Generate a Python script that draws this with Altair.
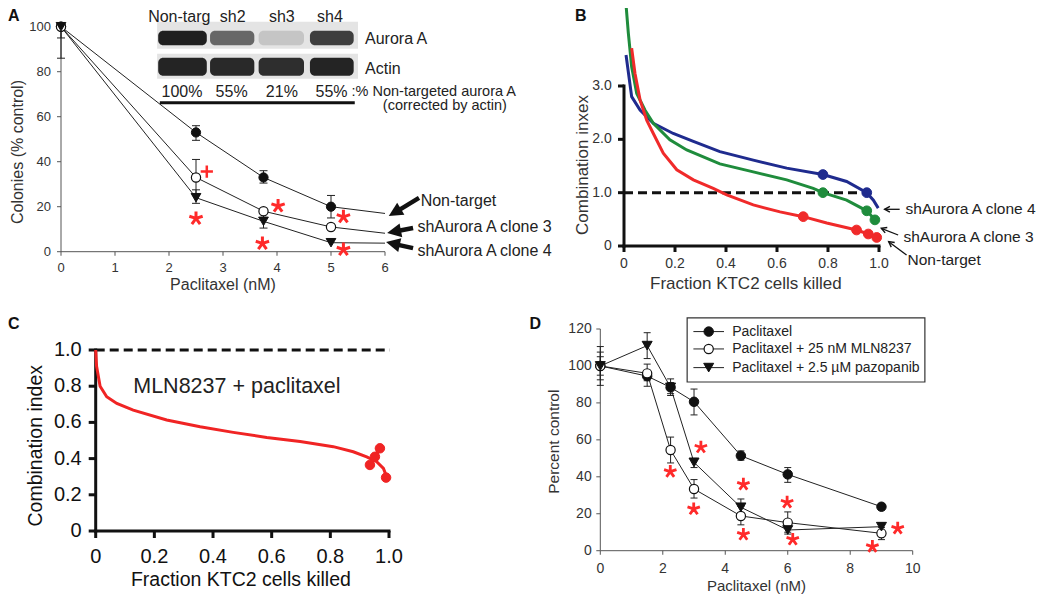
import altair as alt
import pandas as pd

FONT = "Liberation Sans"
INK = "#111111"
TXT = "#222222"
RED_STAR = "#ff2a2a"

# ======================= DATA =======================
# ---- Panel A: colony formation vs paclitaxel ----
a_dose = [0, 2.5, 3.75, 5]
a_series = ["Non-target", "shAurora A clone 3", "shAurora A clone 4"]
a_nontarget = [100, 53, 33, 20]
a_clone3 = [100, 33, 18, 11]
a_clone4 = [100, 24, 13.5, 4]
a_last_dose = 6
a_last_values = [17, 8.2, 3.8]
a_nontarget_lo = [95, 49.5, 30.5, 15]
a_nontarget_hi = [100, 56, 36, 25]
a_clone3_lo = [86, 25, 18, 11]
a_clone3_hi = [100, 41, 18, 11]
a_clone4_lo = [100, 21.5, 10.5, 4]
a_clone4_hi = [100, 27.5, 17, 4]
a_star_dose = [2.5, 4.02, 3.73, 5.23, 5.23]
a_star_value = [14.8, 20.3, 3.7, 15.5, 1.0]
a_plus_dose = [2.7]
a_plus_value = [35.6]
a_xticks = [0, 1, 2, 3, 4, 5, 6]
a_xlabels = ["0", "1", "2", "3", "4", "5", "6"]
a_yticks = [0, 20, 40, 60, 80, 100]
a_ylabels = ["0", "20", "40", "60", "80", "100"]

# western blot inset
blot_lanes = ["Non-targ", "sh2", "sh3", "sh4"]
blot_aurora = [0.95, 0.6, 0.15, 0.8]
blot_actin = [0.92, 0.9, 0.88, 0.92]
blot_percent = ["100%", "55%", "21%", "55%"]

# ---- Panel B: combination index curves ----
b_clone4_fa = [0.008, 0.03, 0.063, 0.115, 0.193, 0.272, 0.376, 0.507, 0.638, 0.78, 0.873, 0.952, 0.978, 0.997]
b_clone4_ci = [3.58, 2.8, 2.55, 2.3, 2.11, 1.96, 1.77, 1.61, 1.46, 1.34, 1.21, 1.0, 0.86, 0.71]
b_clone3_fa = [0.008, 0.017, 0.03, 0.05, 0.082, 0.115, 0.18, 0.246, 0.376, 0.507, 0.638, 0.742, 0.78, 0.873, 0.952, 0.984]
b_clone3_ci = [4.52, 3.99, 3.36, 2.86, 2.55, 2.3, 1.99, 1.8, 1.54, 1.39, 1.24, 1.08, 1.0, 0.86, 0.66, 0.49]
b_nontarget_fa = [0.03, 0.043, 0.063, 0.089, 0.115, 0.154, 0.207, 0.272, 0.35, 0.403, 0.507, 0.612, 0.703, 0.795, 0.912, 0.958, 0.997]
b_nontarget_ci = [3.71, 3.24, 2.74, 2.36, 2.11, 1.74, 1.43, 1.24, 1.08, 0.96, 0.77, 0.64, 0.55, 0.43, 0.3, 0.225, 0.14]
b_clone4_pts_fa = [0.78, 0.952]
b_clone4_pts_ci = [1.34, 1.0]
b_clone3_pts_fa = [0.78, 0.952, 0.984]
b_clone3_pts_ci = [1.0, 0.66, 0.49]
b_nontarget_pts_fa = [0.703, 0.912, 0.958, 0.991]
b_nontarget_pts_ci = [0.55, 0.30, 0.225, 0.16]
b_ref_ci = 1.0
b_ref_fa = [0, 0.978]
b_xticks = [0, 0.2, 0.4, 0.6, 0.8, 1.0]
b_xlabels = ["0", "0.2", "0.4", "0.6", "0.8", "1.0"]
b_yticks = [0, 1, 2, 3]
b_ylabels = ["0", "1.0", "2.0", "3.0"]

# ---- Panel C: MLN8237 + paclitaxel ----
c_fa = [0, 0.003, 0.015, 0.0375, 0.072, 0.128, 0.242, 0.356, 0.469, 0.583, 0.697, 0.81, 0.878, 0.924, 0.958, 0.981, 0.992]
c_ci = [1.0, 0.91, 0.80, 0.742, 0.705, 0.668, 0.613, 0.576, 0.545, 0.517, 0.494, 0.466, 0.438, 0.41, 0.383, 0.346, 0.30]
c_pts_fa = [0.935, 0.952, 0.969]
c_pts_ci = [0.365, 0.41, 0.457]
c_end_fa = [0.99]
c_end_ci = [0.295]
c_ref_ci = 1.0
c_ref_fa = [0, 1.003]
c_xticks = [0, 0.2, 0.4, 0.6, 0.8, 1.0]
c_xlabels = ["0", "0.2", "0.4", "0.6", "0.8", "1.0"]
c_yticks = [0, 0.2, 0.4, 0.6, 0.8, 1.0]
c_ylabels = ["0", "0.2", "0.4", "0.6", "0.8", "1.0"]

# ---- Panel D: percent control vs paclitaxel ----
d_dose = [0, 1.5, 2.25, 3, 4.5, 6, 9]
d_pac = [100, 94.5, 88.4, 80.6, 51.4, 41.3, 23.8]
d_mln = [100, 96, 54.5, 33.4, 18.8, 15.2, 9.4]
d_paz = [100, 111, 88.4, 47.8, 23.5, 11.2, 13]
d_pac_lo = [89.5, 92, 85, 73.5, 49, 37, 22]
d_pac_hi = [110.5, 97, 91, 87.5, 54, 45, 25.5]
d_mln_lo = [92.5, 89, 47.5, 28.5, 14, 10, 6]
d_mln_hi = [107.5, 101, 61.5, 38.5, 24, 21, 12.5]
d_paz_lo = [95, 104, 84, 45, 18, 9, 11]
d_paz_hi = [105, 118, 93, 50, 28, 14, 15]
d_star_dose = [3.22, 2.24, 2.99, 4.58, 4.58, 5.98, 6.16, 8.71, 9.52]
d_star_value = [56, 42.8, 22.6, 35.9, 8.8, 26.2, 6.1, 2.2, 12.1]
d_legend = ["Paclitaxel", "Paclitaxel + 25 nM MLN8237", "Paclitaxel + 2.5 \u00b5M pazopanib"]
d_xticks = [0, 2, 4, 6, 8, 10]
d_xlabels = ["0", "2", "4", "6", "8", "10"]
d_yticks = [0, 20, 40, 60, 80, 100, 120]
d_ylabels = ["0", "20", "40", "60", "80", "100", "120"]

# ======================= LAYOUT (annotation placement, data units) =======================
A_LANE_MID = [2.19, 3.18, 4.09, 4.98]
A_PCT_MID = [2.24, 3.16, 4.09, 5.01]
A_LANE_LO = [1.80, 2.76, 3.66, 4.61]
A_LANE_HI = [2.70, 3.58, 4.50, 5.42]
A_ARROW_TAIL = [(6.63, 23.9), (6.52, 10.5), (6.52, 1.6)]
A_ARROW_NECK = [(6.19, 17.5), (6.16, 8.9), (6.14, 3.6)]
A_ARROW_TIP = [(6.07, 15.9), (6.04, 8.3), (6.02, 4.3)]
A_ARROW_ANGLE = [329, 349, 12.5]
A_LABEL_POS = [(6.66, 22.4), (6.6, 11.1), (6.6, 0.5)]
B_ARROW_TAIL = [(1.081, 0.688), (1.075, 0.206), (1.108, -0.169)]
B_ARROW_TIP = [(1.022, 0.688), (1.009, 0.332), (1.038, 0.081)]
B_ARROW_ANGLE = [0, 21, 36]
B_LABEL_POS = [(1.104, 0.688), (1.096, 0.163), (1.112, -0.263)]
B_LABELS = ["shAurora A clone 4", "shAurora A clone 3", "Non-target"]

ASTER = "M0,0L0,-1M0,0L0.951,-0.309M0,0L0.588,0.809M0,0L-0.588,0.809M0,0L-0.951,-0.309"
PLUS = "M-1,0L1,0M0,-1L0,1"
HEAD = "M0,0L2,-1L2,1Z"
CHEV = "M2,-1.1L0,0L2,1.1"


# ======================= HELPERS =======================
def sc(dom, rng):
    return alt.Scale(domain=dom, range=rng, nice=False, zero=False)


def XQ(S, f="x"):
    return alt.X(f"{f}:Q", scale=S, axis=None)


def YQ(S, f="y"):
    return alt.Y(f"{f}:Q", scale=S, axis=None)


def df_xy(xs, ys, **cols):
    d = {"x": list(xs), "y": list(ys)}
    d.update(cols)
    return pd.DataFrame(d)


def texts(df, X, Y, size, color=TXT, align="left", weight="normal", angle=0, baseline="middle", dx=0, dy=0):
    return alt.Chart(df).mark_text(align=align, baseline=baseline, fontSize=size, font=FONT, angle=angle,
                                   color=color, fontWeight=weight, dx=dx, dy=dy).encode(
        x=XQ(X), y=YQ(Y), text="t:N")


def symbols(df, X, Y, shape, size, fill, stroke, sw=1.0):
    return alt.Chart(df).mark_point(shape=shape, size=size, filled=True, fill=fill, stroke=stroke,
                                    strokeWidth=sw, opacity=1).encode(x=XQ(X), y=YQ(Y))


def strokes(df, X, Y, shape, size, color, sw, angle=False):
    enc = dict(x=XQ(X), y=YQ(Y))
    if angle:
        enc["angle"] = alt.Angle("ang:Q", scale=None)
    return alt.Chart(df).mark_point(shape=shape, size=size, filled=False, color=color,
                                    strokeWidth=sw, opacity=1).encode(**enc)


def segs(df, X, Y, color, width, dash=None, cap="butt"):
    kw = dict(color=color, strokeWidth=width, strokeCap=cap)
    if dash:
        kw["strokeDash"] = dash
    return alt.Chart(df).mark_rule(**kw).encode(x=XQ(X, "x"), x2="x2:Q", y=YQ(Y, "y"), y2="y2:Q")


def errbars(xs, los, his, X, Y, cap=8, color="#222"):
    rows = [dict(x=x, lo=l, hi=h) for x, l, h in zip(xs, los, his) if h > l]
    d = pd.DataFrame(rows)
    caps = pd.DataFrame([dict(x=r["x"], y=r[k]) for r in rows for k in ("lo", "hi")])
    r = alt.Chart(d).mark_rule(color=color, strokeWidth=1).encode(x=XQ(X), y=YQ(Y, "lo"), y2="hi:Q")
    t = alt.Chart(caps).mark_tick(orient="horizontal", size=cap, thickness=1, color=color,
                                  opacity=1).encode(x=XQ(X), y=YQ(Y))
    return [r, t]


def axes(X, Y, xt, xl, yt, yl, color, width, tick, lab_size, lab_color, xdy, ydx, cap="butt"):
    x0, y0 = xt[0], yt[0]
    out = [
        segs(pd.DataFrame({"x": [xt[0]], "x2": [xt[-1]], "y": [y0], "y2": [y0]}), X, Y, color, width, cap=cap),
        segs(pd.DataFrame({"x": [x0], "x2": [x0], "y": [yt[0]], "y2": [yt[-1]]}), X, Y, color, width, cap=cap),
        alt.Chart(df_xy(xt, [y0] * len(xt))).mark_tick(
            orient="vertical", size=tick, thickness=width, color=color, yOffset=tick / 2, opacity=1
        ).encode(x=XQ(X), y=YQ(Y)),
        alt.Chart(df_xy([x0] * len(yt), yt)).mark_tick(
            orient="horizontal", size=tick, thickness=width, color=color, xOffset=-tick / 2, opacity=1
        ).encode(x=XQ(X), y=YQ(Y)),
        texts(df_xy(xt, [y0] * len(xt), t=xl), X, Y, lab_size, color=lab_color, align="center",
              baseline="top", dy=xdy),
        texts(df_xy([x0] * len(yt), yt, t=yl), X, Y, lab_size, color=lab_color, align="right", dx=ydx),
    ]
    return out


# ======================= PANEL A =======================
AX = sc([0, 6], [53, 377])
AY = sc([0, 100], [243.7, 18.7])

rows = []
for name, vals, last in zip(a_series, [a_nontarget, a_clone3, a_clone4], a_last_values):
    for d, v in zip(a_dose + [a_last_dose], vals + [last]):
        rows.append(dict(series=name, x=d, y=v))
a_lines = pd.DataFrame(rows)

a_layers = axes(AX, AY, a_xticks, a_xlabels, a_yticks, a_ylabels, "#555", 1, 4, 13, "#333", 10.3, -10)
a_layers += [
    texts(df_xy([3.0], [-15.0], t=["Paclitaxel (nM)"]), AX, AY, 16, color="#333", align="center"),
    texts(df_xy([-0.789], [44.3], t=["Colonies (% control)"]), AX, AY, 16, color="#333", align="center",
          angle=270),
    alt.Chart(a_lines).mark_line(color="#222", strokeWidth=1).encode(x=XQ(AX), y=YQ(AY), detail="series:N"),
]
a_layers += errbars(a_dose, a_nontarget_lo, a_nontarget_hi, AX, AY)
a_layers += errbars(a_dose, a_clone3_lo, a_clone3_hi, AX, AY)
a_layers += errbars(a_dose, a_clone4_lo, a_clone4_hi, AX, AY)
a_layers += [
    symbols(df_xy(a_dose, a_nontarget), AX, AY, "circle", 85, INK, INK),
    symbols(df_xy(a_dose, a_clone3), AX, AY, "circle", 85, "white", INK, 1.2),
    symbols(df_xy(a_dose, a_clone4), AX, AY, "triangle-down", 95, INK, INK),
    strokes(df_xy(a_star_dose, a_star_value), AX, AY, ASTER, 196, RED_STAR, 3),
    strokes(df_xy(a_plus_dose, a_plus_value), AX, AY, PLUS, 150, RED_STAR, 2.5),
    # arrows to series labels
    segs(pd.DataFrame({"x": [p[0] for p in A_ARROW_TAIL], "y": [p[1] for p in A_ARROW_TAIL],
                       "x2": [p[0] for p in A_ARROW_NECK], "y2": [p[1] for p in A_ARROW_NECK]}),
         AX, AY, INK, 4.5),
    alt.Chart(pd.DataFrame({"x": [p[0] for p in A_ARROW_TIP], "y": [p[1] for p in A_ARROW_TIP],
                            "ang": A_ARROW_ANGLE})).mark_point(
        shape=HEAD, size=196, filled=True, color=INK, opacity=1).encode(
        x=XQ(AX), y=YQ(AY), angle=alt.Angle("ang:Q", scale=None)),
    texts(pd.DataFrame({"x": [p[0] for p in A_LABEL_POS], "y": [p[1] for p in A_LABEL_POS],
                        "t": a_series}), AX, AY, 16),
    # western blot inset
    alt.Chart(pd.DataFrame({"x": [1.78, 1.78], "x2": [5.50, 5.50], "y": [90.2, 76.9], "y2": [102.2, 88.0]}))
    .mark_rect(color="#e4e4e4").encode(x=XQ(AX), x2="x2:Q", y=YQ(AY), y2="y2:Q"),
    alt.Chart(pd.DataFrame({"x": A_LANE_LO + A_LANE_LO, "x2": A_LANE_HI + A_LANE_HI,
                            "y": [91.8] * 4 + [78.2] * 4, "y2": [98.2] * 4 + [86.2] * 4,
                            "k": blot_aurora + blot_actin}))
    .mark_rect(color="#141414", cornerRadius=5).encode(
        x=XQ(AX), x2="x2:Q", y=YQ(AY), y2="y2:Q", opacity=alt.Opacity("k:Q", scale=None)),
    texts(pd.DataFrame({"x": A_LANE_MID, "y": [104.4] * 4, "t": blot_lanes}), AX, AY, 16, align="center"),
    texts(pd.DataFrame({"x": A_PCT_MID, "y": [71.0] * 4, "t": blot_percent}), AX, AY, 16, align="center"),
    texts(pd.DataFrame({"x": [5.63, 5.63], "y": [94.7, 81.3], "t": ["Aurora A", "Actin"]}), AX, AY, 16),
    texts(pd.DataFrame({"x": [5.38, 5.96], "y": [71.0, 64.8],
                        "t": [":% Non-targeted aurora A", "(corrected by actin)"]}), AX, AY, 14.5),
    segs(pd.DataFrame({"x": [1.83], "x2": [5.44], "y": [66.2], "y2": [66.2]}), AX, AY, INK, 3),
    texts(pd.DataFrame({"x": [-0.98], "y": [104.8], "t": ["A"]}), AX, AY, 16, color=INK, weight="bold"),
]
panel_a = alt.layer(*a_layers)

# ======================= PANEL B =======================
BX = sc([0, 1], [616, 871])
BY = sc([0, 3], [238, 78])
BLUE, GREEN, RED = "#1f2b8e", "#1f8c3c", "#f02a2a"

b_layers = axes(BX, BY, b_xticks, b_xlabels, b_yticks, b_ylabels, INK, 3, 6, 14, "#333", 11.3, -12.3,
                cap="square")
b_layers += [
    texts(df_xy([0.478], [-0.709], t=["Fraction KTC2 cells killed"]), BX, BY, 17, color="#333", align="center"),
    texts(df_xy([-0.160], [1.519], t=["Combination inxex"]), BX, BY, 17, color="#333", align="center",
          angle=270),
    segs(pd.DataFrame({"x": [b_ref_fa[0]], "x2": [b_ref_fa[1]], "y": [b_ref_ci], "y2": [b_ref_ci]}),
         BX, BY, INK, 3, dash=[9, 5]),
    alt.Chart(df_xy(b_clone4_fa, b_clone4_ci)).mark_line(color=BLUE, strokeWidth=3).encode(x=XQ(BX), y=YQ(BY)),
    alt.Chart(df_xy(b_clone3_fa, b_clone3_ci)).mark_line(color=GREEN, strokeWidth=3).encode(x=XQ(BX), y=YQ(BY)),
    alt.Chart(df_xy(b_nontarget_fa, b_nontarget_ci)).mark_line(color=RED, strokeWidth=3).encode(x=XQ(BX), y=YQ(BY)),
    symbols(df_xy(b_clone4_pts_fa, b_clone4_pts_ci), BX, BY, "circle", 95, BLUE, BLUE),
    symbols(df_xy(b_clone3_pts_fa, b_clone3_pts_ci), BX, BY, "circle", 95, GREEN, GREEN),
    symbols(df_xy(b_nontarget_pts_fa, b_nontarget_pts_ci), BX, BY, "circle", 95, RED, RED),
    segs(pd.DataFrame({"x": [p[0] for p in B_ARROW_TAIL], "y": [p[1] for p in B_ARROW_TAIL],
                       "x2": [p[0] for p in B_ARROW_TIP], "y2": [p[1] for p in B_ARROW_TIP]}),
         BX, BY, INK, 1.3),
    strokes(pd.DataFrame({"x": [p[0] for p in B_ARROW_TIP], "y": [p[1] for p in B_ARROW_TIP],
                          "ang": B_ARROW_ANGLE}), BX, BY, CHEV, 28, INK, 1.4, angle=True),
    texts(pd.DataFrame({"x": [p[0] for p in B_LABEL_POS], "y": [p[1] for p in B_LABEL_POS],
                        "t": B_LABELS}), BX, BY, 15.5),
    texts(pd.DataFrame({"x": [-0.192], "y": [4.315], "t": ["B"]}), BX, BY, 16, color=INK, weight="bold"),
]
panel_b = alt.layer(*b_layers)

# ======================= PANEL C =======================
CX = sc([0, 1], [87.7, 381])
CY = sc([0, 1], [523, 342])
CRED = "#f02424"
c_layers = axes(CX, CY, c_xticks, c_xlabels, c_yticks, c_ylabels, INK, 3, 7, 20, INK, 15.8, -14,
                cap="square")
c_layers += [
    texts(df_xy([0.495], [-0.27], t=["Fraction KTC2 cells killed"]), CX, CY, 19.5, color=INK, align="center"),
    texts(df_xy([-0.205], [0.471], t=["Combination index"]), CX, CY, 19.5, color=INK, align="center",
          angle=270),
    segs(pd.DataFrame({"x": [c_ref_fa[0]], "x2": [c_ref_fa[1]], "y": [c_ref_ci], "y2": [c_ref_ci]}),
         CX, CY, INK, 3, dash=[9, 5]),
    alt.Chart(df_xy(c_fa, c_ci)).mark_line(color=CRED, strokeWidth=3).encode(x=XQ(CX), y=YQ(CY)),
    alt.Chart(df_xy(c_pts_fa, c_pts_ci)).mark_line(color=CRED, strokeWidth=4).encode(x=XQ(CX), y=YQ(CY)),
    symbols(df_xy(c_pts_fa + c_end_fa, c_pts_ci + c_end_ci), CX, CY, "circle", 90, CRED, CRED),
    texts(pd.DataFrame({"x": [0.128], "y": [0.793], "t": ["MLN8237 + paclitaxel"]}), CX, CY, 21.5),
    texts(pd.DataFrame({"x": [-0.299], "y": [1.144], "t": ["C"]}), CX, CY, 16, color=INK, weight="bold"),
]
panel_c = alt.layer(*c_layers)

# ======================= PANEL D =======================
DX = sc([0, 10], [592.3, 904.7])
DY = sc([0, 120], [542.7, 321])
d_rows = []
for name, vals in zip(d_legend, [d_pac, d_mln, d_paz]):
    for x, v in zip(d_dose, vals):
        d_rows.append(dict(series=name, x=x, y=v))
d_lines = pd.DataFrame(d_rows)

d_layers = axes(DX, DY, d_xticks, d_xlabels, d_yticks, d_ylabels, "#555", 1, 4, 14, "#333", 11.3, -8.6)
d_layers += [
    texts(df_xy([5.0], [-19.1], t=["Paclitaxel (nM)"]), DX, DY, 15, color="#333", align="center"),
    texts(df_xy([-1.49], [59.0], t=["Percent control"]), DX, DY, 15.5, color="#333", align="center",
          angle=270),
    alt.Chart(d_lines).mark_line(color="#222", strokeWidth=1).encode(x=XQ(DX), y=YQ(DY), detail="series:N"),
]
d_layers += errbars(d_dose, d_pac_lo, d_pac_hi, DX, DY, cap=7)
d_layers += errbars(d_dose, d_mln_lo, d_mln_hi, DX, DY, cap=7)
d_layers += errbars(d_dose, d_paz_lo, d_paz_hi, DX, DY, cap=7)
d_layers += [
    symbols(df_xy(d_dose, d_pac), DX, DY, "circle", 90, INK, INK),
    symbols(df_xy(d_dose, d_mln), DX, DY, "circle", 85, "white", INK, 1.2),
    symbols(df_xy(d_dose, d_paz), DX, DY, "triangle-down", 100, INK, INK),
    strokes(df_xy(d_star_dose, d_star_value), DX, DY, ASTER, 170, RED_STAR, 2.8),
    # legend
    alt.Chart(pd.DataFrame({"x": [2.78], "x2": [10.39], "y": [91.3], "y2": [126.0]}))
    .mark_rect(fill="white", stroke="#333", strokeWidth=1.2).encode(x=XQ(DX), x2="x2:Q", y=YQ(DY), y2="y2:Q"),
    segs(pd.DataFrame({"x": [2.98] * 3, "x2": [3.96] * 3, "y": [118.6, 109.2, 99.1], "y2": [118.6, 109.2, 99.1]}),
         DX, DY, "#222", 1),
    symbols(df_xy([3.47], [118.6]), DX, DY, "circle", 90, INK, INK),
    symbols(df_xy([3.47], [109.2]), DX, DY, "circle", 85, "white", INK, 1.2),
    symbols(df_xy([3.47], [99.1]), DX, DY, "triangle-down", 100, INK, INK),
    texts(pd.DataFrame({"x": [4.22] * 3, "y": [118.6, 109.2, 99.1], "t": d_legend}), DX, DY, 14, color="#222"),
    texts(pd.DataFrame({"x": [-2.27], "y": [122.7], "t": ["D"]}), DX, DY, 16, color=INK, weight="bold"),
]
panel_d = alt.layer(*d_layers)

chart = (
    alt.layer(panel_a, panel_b, panel_c, panel_d)
    .resolve_scale(x="independent", y="independent")
    .properties(width=1034, height=586, padding=0, autosize=alt.AutoSizeParams(type="none"))
    .configure(font=FONT)
    .configure_view(stroke=None)
)

chart.save("out.html", embed_options={"renderer": "svg", "actions": False})
